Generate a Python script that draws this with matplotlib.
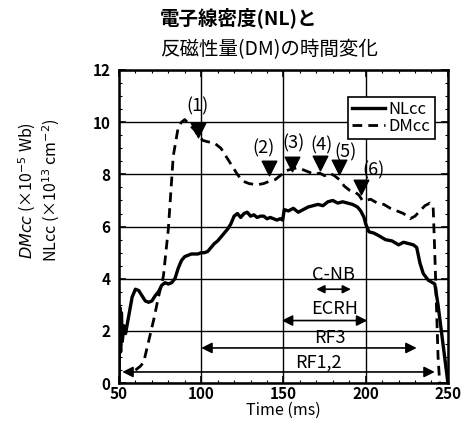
import matplotlib
matplotlib.use("Agg")
import matplotlib.pyplot as plt
from matplotlib.ticker import MultipleLocator

plt.rcParams["font.family"] = ["Noto Sans CJK JP", "DejaVu Sans"]

# NLcc (solid)
nl_t = [50, 50.5, 51, 51.5, 52, 53, 54, 56, 58, 60, 62, 64, 66, 68, 70, 72, 74, 76, 78,
        80, 82, 84, 86, 88, 90, 92, 94, 96, 98, 100, 102, 104, 106, 108, 110, 112, 114,
        116, 118, 120, 122, 124, 126, 128, 130, 132, 134, 136, 138, 140, 142, 144, 146,
        148, 149.5, 150.5, 153, 156, 159, 162, 165, 168, 171, 174, 177, 180, 183, 186,
        189, 192, 195, 197, 199, 200, 202, 205, 208, 212, 216, 220, 223, 226, 229, 231,
        233, 235, 238, 242, 244, 246, 248, 250]
nl_v = [0, 2.9, 1.2, 2.7, 1.6, 2.2, 1.9, 2.6, 3.3, 3.6, 3.55, 3.35, 3.15, 3.1, 3.15,
        3.35, 3.5, 3.75, 3.85, 3.8, 3.85, 4.0, 4.4, 4.7, 4.85, 4.9, 4.95, 4.95, 4.95, 5.0,
        5.0, 5.05, 5.2, 5.35, 5.45, 5.6, 5.75, 5.9, 6.1, 6.4, 6.5, 6.35, 6.5, 6.55, 6.4,
        6.45, 6.35, 6.4, 6.4, 6.3, 6.35, 6.3, 6.25, 6.3, 6.25, 6.65, 6.6, 6.7, 6.55, 6.65,
        6.75, 6.8, 6.85, 6.8, 6.95, 7.0, 6.9, 6.95, 6.9, 6.85, 6.75, 6.6, 6.35, 6.1, 5.8,
        5.75, 5.65, 5.5, 5.45, 5.3, 5.4, 5.35, 5.3, 5.2, 4.6, 4.2, 3.95, 3.8, 3.0, 2.0,
        1.0, 0]

# DMcc (dashed)
dm_t = [60, 63, 65, 68, 71, 74, 77, 80, 83, 86, 88, 90, 93, 96, 98, 101, 104, 108, 112,
        116, 119, 122, 125, 129, 134, 138, 142, 145, 149, 152, 155, 158, 161, 165, 169,
        172, 175, 178, 181, 184, 187, 190, 193, 196, 198, 200, 203, 207, 211, 215, 219,
        223, 227, 230, 233, 236, 239, 241, 242, 243, 244, 245]
dm_v = [0.5, 0.65, 0.8, 1.6, 2.4, 3.3, 4.1, 5.9, 8.7, 9.8, 10.0, 10.1, 9.9, 9.7, 9.5,
        9.3, 9.25, 9.2, 9.0, 8.6, 8.3, 8.0, 7.75, 7.65, 7.6, 7.65, 7.75, 7.8, 8.0, 8.15,
        8.2, 8.25, 8.2, 8.1, 8.0, 8.05, 7.95, 8.05, 7.95, 7.8, 7.55, 7.4, 7.35, 7.2, 7.0,
        7.0, 7.05, 6.9, 6.85, 6.7, 6.6, 6.5, 6.3, 6.4, 6.6, 6.8, 6.9, 6.8, 5.0, 3.0, 1.0, 0]

# numbered markers on DMcc
mark_t = [98, 141.5, 155, 172, 183.5, 197]
mark_v = [9.7, 8.25, 8.4, 8.45, 8.3, 7.5]
mark_labels = ["(1)", "(2)", "(3)", "(4)", "(5)", "(6)"]
label_t = [98, 138, 156, 173, 188, 205]
label_v = [10.6, 9.0, 9.2, 9.1, 8.85, 8.15]

# heating periods: name, start, end, arrow height, text x, text y
periods = [("ECRH", 149, 201, 2.4, 181, 2.85),
           ("RF3", 100, 231, 1.35, 178, 1.75),
           ("RF1,2", 52, 242, 0.43, 171, 0.78)]
cnb = ("C-NB", 170, 191, 3.6, 180.5, 4.15)

fig = plt.figure(figsize=(4.74, 4.32), dpi=100)
ax = fig.add_axes([0.251, 0.113, 0.694, 0.725])

ax.plot(nl_t, nl_v, color="black", lw=2.4, label="NLcc", zorder=3)
ax.plot(dm_t, dm_v, color="black", lw=2.0, ls=(0, (3.5, 2.2)), label="DMcc", zorder=3)
ax.scatter(mark_t, mark_v, marker="v", s=110, color="black", zorder=4)
for lab, tx, ty in zip(mark_labels, label_t, label_v):
    ax.text(tx, ty, lab, ha="center", va="center", fontsize=13, zorder=5)

for name, t0, t1, yy, tx, ty in periods:
    ax.annotate("", xy=(t0, yy), xytext=(t1, yy),
                arrowprops=dict(arrowstyle="<|-|>", color="black", lw=1.2,
                                mutation_scale=16, shrinkA=0, shrinkB=0))
    ax.text(tx, ty, name, ha="center", va="center", fontsize=13)

name, t0, t1, yy, tx, ty = cnb
ax.annotate("", xy=(t0, yy), xytext=(t1, yy),
            arrowprops=dict(arrowstyle="<|-|>", color="black", lw=1.2,
                            mutation_scale=12, shrinkA=0, shrinkB=0))
ax.text(tx, ty, name, ha="center", va="center", fontsize=13)

ax.set_xlim(50, 250)
ax.set_ylim(0, 12)
ax.xaxis.set_major_locator(MultipleLocator(50))
ax.xaxis.set_minor_locator(MultipleLocator(10))
ax.yaxis.set_major_locator(MultipleLocator(2))
ax.yaxis.set_minor_locator(MultipleLocator(0.5))
ax.tick_params(which="both", direction="in", top=True, right=True)
ax.tick_params(which="major", length=5, width=1.2, labelsize=11)
ax.tick_params(axis="x", which="major", pad=2)
ax.tick_params(axis="y", which="major", pad=6)
ax.tick_params(which="minor", length=2.5, width=0.8)
for lab in ax.get_xticklabels() + ax.get_yticklabels():
    lab.set_fontweight("bold")
ax.grid(True, which="major", color="black", lw=1.0)
for s in ax.spines.values():
    s.set_linewidth(1.8)

ax.set_xlabel("Time (ms)", fontsize=11.5, labelpad=0)
leg = ax.legend(loc="upper right", bbox_to_anchor=(0.985, 0.94), fontsize=12,
                handlelength=2.0, handletextpad=0.2, borderpad=0.25,
                labelspacing=0.0, fancybox=False, framealpha=1, edgecolor="black")
leg.get_frame().set_linewidth(1.2)

fig.text(0.058, 0.56, "$DMcc$ (×10$^{-5}$ Wb)", rotation=90, ha="center", va="center",
         fontsize=11.5)
fig.text(0.108, 0.56, "NLcc (×10$^{13}$ cm$^{-2}$)", rotation=90, ha="center",
         va="center", fontsize=11.5)

fig.text(0.337, 0.96, "電子線密度(NL)と", ha="left", va="center", fontsize=14,
         fontweight="bold")
fig.text(0.337, 0.885, "反磁性量(DM)の時間変化", ha="left", va="center", fontsize=14)

fig.savefig("out.png", dpi=100)
